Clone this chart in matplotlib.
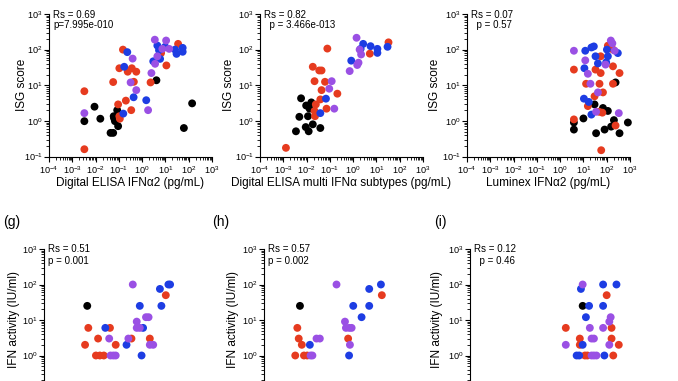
import numpy as np
import matplotlib
matplotlib.use('Agg')
import matplotlib.pyplot as plt
from matplotlib.ticker import LogLocator, FuncFormatter, NullFormatter, FixedLocator

plt.rcParams['font.family'] = ['Liberation Sans', 'DejaVu Sans']
plt.rcParams['mathtext.fontset'] = 'custom'
plt.rcParams['mathtext.rm'] = 'Liberation Sans'
plt.rcParams['mathtext.it'] = 'Liberation Sans:italic'
plt.rcParams['mathtext.bf'] = 'Liberation Sans:bold'

RED = '#E63B1F'
BLUE = '#1D3DE3'
PURPLE = '#9A50E4'
BLACK = '#000000'

# ---------------- data ----------------
# (d) ISG score vs Digital ELISA IFNa2
d_black_x = [0.0033, 0.009, 0.016, 0.062, 0.068, 0.093, 0.044, 0.057, 0.085, 0.06, 4.1, 140, 62]
d_black_y = [0.98, 2.5, 1.15, 1.2, 0.98, 0.71, 0.46, 0.46, 2.0, 1.35, 13.8, 3.1, 0.63]
d_red_x = [0.0033, 0.0033, 0.057, 0.15, 0.105, 0.24, 0.36, 0.56, 0.44, 0.093, 0.105, 0.11, 0.2, 0.34, 2.3, 6.5, 11, 35]
d_red_y = [6.8, 0.16, 12.3, 100, 30, 24, 30, 24, 12.5, 2.9, 1.35, 1.15, 3.7, 2.0, 12, 80, 36, 145]
d_blue_x = [0.23, 0.17, 0.43, 0.155, 1.5, 3.0, 4.5, 5.3, 9.7, 5.9, 26, 30, 55, 55]
d_blue_y = [85, 33, 4.6, 1.6, 3.8, 47, 130, 96, 120, 55, 100, 76, 112, 87]
d_purple_x = [0.0033, 0.39, 0.32, 0.56, 1.8, 2.5, 3.6, 4.5, 3.5, 10.7, 7.4, 14.5]
d_purple_y = [1.65, 56, 12, 7.3, 2.0, 22, 40, 65, 190, 180, 105, 105]

# (e) ISG score vs Digital ELISA multi IFNa subtypes
e_black_x = [0.0058, 0.016, 0.0096, 0.0135, 0.0049, 0.0115, 0.0035, 0.0092, 0.0123, 0.0185, 0.039]
e_black_y = [4.3, 3.3, 2.7, 2.2, 1.3, 1.35, 0.51, 0.67, 0.51, 0.8, 0.63]
e_red_x = [0.0013, 0.078, 0.0185, 0.035, 0.044, 0.022, 0.062, 0.044, 0.21, 0.039, 0.025, 0.022, 0.023, 0.072, 5.2, 33]
e_red_y = [0.175, 107, 33, 26, 26, 13, 12.5, 7.3, 5.8, 4.0, 2.9, 1.9, 1.35, 2.2, 77, 160]
e_blue_x = [0.068, 0.039, 0.83, 2.7, 2.1, 5.6, 11, 11, 30]
e_blue_y = [4.2, 1.65, 49, 145, 105, 125, 105, 81, 120]
e_purple_x = [1.4, 0.71, 1.7, 2.2, 0.12, 0.094, 0.155, 1.5, 1.9]
e_purple_y = [215, 25, 43, 73, 13, 8, 2.2, 37, 100]

# (f) ISG score vs Luminex IFNa2
f_black_x = [3.9, 3.9, 10, 30, 69, 112, 204, 240, 810, 81, 155, 355, 35]
f_black_y = [0.57, 0.9, 1.17, 2.9, 2.3, 1.9, 1.05, 12, 0.9, 0.57, 0.69, 0.45, 0.45]
f_red_x = [3.9, 3.9, 13, 49, 33, 55, 55, 112, 186, 186, 355, 186, 30, 69, 15.5, 47, 65, 240, 58]
f_red_y = [27.5, 1.1, 11, 11, 27.5, 22, 65, 129, 100, 34, 22, 11, 4.9, 6.3, 2.6, 1.8, 1.7, 0.74, 0.15]
f_blue_x = [12, 22, 28, 33, 42, 11, 102, 112, 95, 300, 10.5, 17, 22]
f_blue_y = [93, 115, 123, 65, 41, 30, 100, 65, 44, 80, 4.2, 3.4, 1.5]
f_purple_x = [3.9, 12, 15.5, 20, 42, 35, 89, 150, 175, 220, 330]
f_purple_y = [93, 50, 21, 11, 6.3, 1.8, 38, 180, 150, 93, 1.65]

# (g) IFN activity vs Digital ELISA IFNa2
g_black_x = [0.0072]
g_black_y = [25]
g_red_x = [0.0058, 0.008, 0.021, 0.017, 0.025, 0.037, 0.068, 0.12, 0.57, 3.5, 17]
g_red_y = [2, 6, 3, 1, 1, 1, 6, 2, 3, 3, 50]
g_blue_x = [0.043, 0.35, 1.3, 1.8, 1.55, 9.5, 11, 22, 26]
g_blue_y = [6, 2, 25, 6, 1, 75, 25, 100, 100]
g_purple_x = [0.063, 0.072, 0.095, 0.12, 0.65, 0.42, 0.96, 0.96, 1.3, 2.4, 3.1, 3.5, 4.9]
g_purple_y = [3, 1, 1, 1, 100, 3, 9, 6, 6, 12, 12, 2, 2]

# (h) IFN activity vs Digital ELISA multi IFNa subtypes
h_black_x = [0.0035]
h_black_y = [25]
h_red_x = [0.0027, 0.0031, 0.0042, 0.0022, 0.0052, 0.0072, 0.41, 11.5]
h_red_y = [6, 3, 2, 1, 1, 1, 3, 50]
h_blue_x = [0.0093, 0.45, 0.68, 1.55, 3.3, 3.3, 10.5]
h_blue_y = [2, 1, 25, 12, 75, 25, 100]
h_purple_x = [0.01, 0.012, 0.018, 0.025, 0.13, 0.3, 0.33, 0.46, 0.58, 0.49]
h_purple_y = [1, 1, 3, 3, 100, 9, 6, 6, 6, 2]

# (i) IFN activity vs Luminex IFNa2
i_black_x = [6.9]
i_black_y = [25]
i_red_x = [74, 1.3, 120, 5.2, 120, 5.2, 245, 8.6, 11, 142]
i_red_y = [50, 6, 6, 3, 3, 2, 2, 1, 1, 1]
i_blue_x = [5.8, 13, 52, 195, 52, 9.5, 6.9, 3.8, 4.9, 59]
i_blue_y = [75, 25, 100, 100, 25, 12, 2, 1, 1, 1]
i_purple_x = [6.9, 110, 96, 14, 52, 16.6, 21, 1.3, 96, 16.6, 21, 27]
i_purple_y = [100, 12, 9, 6, 6, 3, 3, 2, 2, 1, 1, 1]

x_labels = ['Digital ELISA IFN\u03b12 (pg/mL)',
            'Digital ELISA multi IFN\u03b1 subtypes (pg/mL)',
            'Luminex IFN\u03b12 (pg/mL)']
top_ylabel = 'ISG score'
bottom_ylabel = 'IFN activity (IU/ml)'
top_stats = [('Rs = 0.69', 'p=7.995e-010'), ('Rs = 0.82', '  p = 3.466e-013'), ('Rs = 0.07', '  p = 0.57')]
bottom_stats = [('Rs = 0.51', 'p = 0.001'), ('Rs = 0.57', 'p = 0.002'), ('Rs = 0.12', '  p = 0.46')]
decades = [1e-4, 1e-3, 1e-2, 1e-1, 1e0, 1e1, 1e2, 1e3]

# ---------------- figure ----------------
W, H = 678, 381
fig = plt.figure(figsize=(W / 100, H / 100), dpi=100)


def add_ax(left, top, w, h):
    return fig.add_axes([left / W, 1 - (top + h) / H, w / W, h / H])


def fmt(v, pos):
    return r'$\mathregular{10^{%d}}$' % int(round(np.log10(v)))


def style(ax, bottom_row=False):
    ax.set_xscale('log')
    ax.set_yscale('log')
    ax.set_xlim(1e-4, 1e3)
    ax.set_ylim(1e-1, 1e3)
    for s in ['top', 'right']:
        ax.spines[s].set_visible(False)
    for s in ['left', 'bottom']:
        ax.spines[s].set_linewidth(0.8)
    ax.xaxis.set_major_locator(FixedLocator(decades))
    ax.yaxis.set_major_locator(FixedLocator([d for d in decades if d >= 1e-1]))
    for axis in (ax.xaxis, ax.yaxis):
        axis.set_minor_locator(LogLocator(base=10, subs=np.arange(2, 10), numticks=20))
        axis.set_major_formatter(FuncFormatter(fmt))
        axis.set_minor_formatter(NullFormatter())
    ax.tick_params(which='major', length=3.5, width=0.8, labelsize=6.6, color='black')
    ax.tick_params(which='minor', length=2, width=0.6)
    ax.tick_params(axis='y', which='major', pad=1)
    ax.tick_params(axis='x', which='major', pad=2)
    if bottom_row:
        ax.tick_params(axis='x', which='both', labelbottom=False)
        ax.yaxis.set_major_formatter(FuncFormatter(lambda v, p: fmt(v, p) if v >= 1 else ''))
    ax.patch.set_alpha(0)


def scatter(ax, groups):
    for xs, ys, c in groups:
        ax.scatter(xs, ys, s=32, color=c, edgecolors='none', zorder=3, clip_on=False)


top_lefts = [49, 260, 467]
top_top, top_h, ax_w = 14, 142.5, 163
bot_lefts = [44, 264, 470]
bot_top, bot_h = 249, 142

top_groups = [
    [(d_black_x, d_black_y, BLACK), (d_red_x, d_red_y, RED), (d_blue_x, d_blue_y, BLUE), (d_purple_x, d_purple_y, PURPLE)],
    [(e_black_x, e_black_y, BLACK), (e_red_x, e_red_y, RED), (e_blue_x, e_blue_y, BLUE), (e_purple_x, e_purple_y, PURPLE)],
    [(f_black_x, f_black_y, BLACK), (f_red_x, f_red_y, RED), (f_blue_x, f_blue_y, BLUE), (f_purple_x, f_purple_y, PURPLE)],
]
bot_groups = [
    [(g_black_x, g_black_y, BLACK), (g_red_x, g_red_y, RED), (g_blue_x, g_blue_y, BLUE), (g_purple_x, g_purple_y, PURPLE)],
    [(h_black_x, h_black_y, BLACK), (h_red_x, h_red_y, RED), (h_blue_x, h_blue_y, BLUE), (h_purple_x, h_purple_y, PURPLE)],
    [(i_black_x, i_black_y, BLACK), (i_red_x, i_red_y, RED), (i_blue_x, i_blue_y, BLUE), (i_purple_x, i_purple_y, PURPLE)],
]

top_ylab_x = [22, 229, 435]
bot_ylab_x = [14, 233, 437]
bot_panel_labels = [('(g)', 12), ('(h)', 221), ('(i)', 440)]

for k in range(3):
    ax = add_ax(top_lefts[k], top_top, ax_w, top_h)
    style(ax)
    scatter(ax, top_groups[k])
    L = top_lefts[k]
    fig.text((L + ax_w / 2) / W, 1 - 183 / H, x_labels[k], fontsize=8.5, ha='center', va='center')
    fig.text(top_ylab_x[k] / W, 1 - 85 / H, top_ylabel, fontsize=8.5, rotation=90, ha='center', va='center')
    fig.text((L + 4) / W, 1 - 15 / H, top_stats[k][0], fontsize=7, ha='left', va='center')
    fig.text((L + 4) / W, 1 - 25.5 / H, top_stats[k][1], fontsize=7, ha='left', va='center')

for k in range(3):
    ax = add_ax(bot_lefts[k], bot_top, ax_w, bot_h)
    style(ax, bottom_row=True)
    scatter(ax, bot_groups[k])
    L = bot_lefts[k]
    fig.text(bot_ylab_x[k] / W, 1 - 320 / H, bottom_ylabel, fontsize=8.5, rotation=90, ha='center', va='center')
    fig.text((L + 4) / W, 1 - 249 / H, bottom_stats[k][0], fontsize=7, ha='left', va='center')
    fig.text((L + 4) / W, 1 - 261.5 / H, bottom_stats[k][1], fontsize=7, ha='left', va='center')
    lab, cx = bot_panel_labels[k]
    fig.text(cx / W, 1 - 222 / H, lab, fontsize=10, ha='center', va='center')

fig.savefig('out.png', dpi=100)
